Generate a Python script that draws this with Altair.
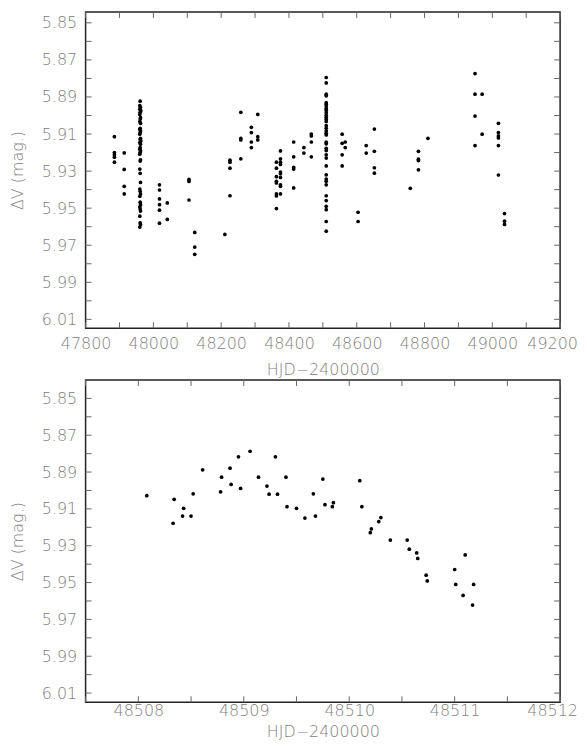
import altair as alt
import pandas as pd

# ---------------- top panel data (HJD-2400000, Delta V) ----------------
top_groups = [
    (47885, [5.9114, 5.9200, 5.9212, 5.9225, 5.9252]),
    (47914, [5.9202, 5.9291, 5.9382, 5.9423]),
    (48018, [5.9374, 5.9402, 5.9450, 5.9481, 5.9511, 5.9581]),
    (48041, [5.9472, 5.9561]),
    (48105, [5.9345, 5.9356, 5.9456]),
    (48122, [5.9631, 5.9710, 5.9749]),
    (48211, [5.9642]),
    (48226, [5.9241, 5.9252, 5.9284, 5.9433]),
    (48258, [5.8983, 5.9124, 5.9132, 5.9234]),
    (48289, [5.9064, 5.9092, 5.9143, 5.9173]),
    (48308, [5.8994, 5.9114, 5.9132]),
    (48414, [5.9143, 5.9223, 5.9280, 5.9289, 5.9391]),
    (48444, [5.9173, 5.9203]),
    (48466, [5.9100, 5.9110, 5.9143, 5.9223]),
    (48557, [5.9101, 5.9150, 5.9212, 5.9272]),
    (48566, [5.9143, 5.9173]),
    (48604, [5.9522, 5.9572]),
    (48628, [5.9162, 5.9203]),
    (48652, [5.9073, 5.9193, 5.9282, 5.9311]),
    (48758, [5.9393]),
    (48782, [5.9193, 5.9236, 5.9243, 5.9293]),
    (48810, [5.9123]),
    (48949, [5.8774, 5.8885, 5.9003, 5.9162]),
    (48970, [5.8885, 5.9101]),
    (49018, [5.9042, 5.9092, 5.9110, 5.9121, 5.9162, 5.9321]),
    (49036, [5.9529, 5.9570, 5.9588]),
]

cluster1_hjd = [47961, 47960, 47962, 47960, 47963, 47961, 47960, 47962, 47961, 47960,
                47962, 47961, 47960, 47962, 47961, 47960, 47962, 47961, 47963, 47960,
                47962, 47961, 47960, 47962, 47961, 47960, 47962, 47961, 47960, 47961,
                47962, 47960, 47961, 47962, 47960, 47961, 47962, 47960, 47961, 47962,
                47960, 47961, 47962, 47960]
cluster1_dv = [5.8923, 5.8947, 5.8956, 5.8966, 5.8974, 5.8983, 5.8994, 5.9012, 5.9019, 5.9033,
               5.9042, 5.9069, 5.9076, 5.9084, 5.9092, 5.9101, 5.9123, 5.9130, 5.9137, 5.9146,
               5.9155, 5.9173, 5.9182, 5.9191, 5.9200, 5.9209, 5.9239, 5.9246, 5.9289, 5.9312,
               5.9361, 5.9397, 5.9409, 5.9423, 5.9436, 5.9468, 5.9481, 5.9493, 5.9504, 5.9516,
               5.9543, 5.9579, 5.9588, 5.9602]

cluster2_hjd = [48375, 48363, 48375, 48375, 48375, 48363, 48375, 48375, 48375,
                48363, 48363, 48363, 48375, 48375, 48363, 48363, 48375, 48363]
cluster2_dv = [5.9191, 5.9252, 5.9234, 5.9252, 5.9264, 5.9284, 5.9305, 5.9314, 5.9334,
               5.9330, 5.9355, 5.9364, 5.9374, 5.9382, 5.9423, 5.9434, 5.9423, 5.9502]

cluster3_hjd = [48510] * 36
cluster3_dv = [5.8795, 5.8824, 5.8885, 5.8894, 5.8931, 5.8939, 5.8949, 5.8962, 5.8971, 5.8985,
               5.8998, 5.9010, 5.9021, 5.9033, 5.9055, 5.9069, 5.9084, 5.9096, 5.9105, 5.9144,
               5.9153, 5.9177, 5.9189, 5.9212, 5.9230, 5.9272, 5.9320, 5.9343, 5.9355, 5.9374,
               5.9433, 5.9459, 5.9490, 5.9508, 5.9572, 5.9624]

# ---------------- bottom panel data (one night) ----------------
night_hjd = [48508.08, 48508.33, 48508.34, 48508.43, 48508.42, 48508.50, 48508.52, 48508.61,
             48508.78, 48508.79, 48508.87, 48508.88, 48508.95, 48508.97, 48509.06, 48509.14,
             48509.22, 48509.24, 48509.30, 48509.32, 48509.40, 48509.41, 48509.50, 48509.58,
             48509.66, 48509.68, 48509.75, 48509.77, 48509.84, 48509.85,
             48510.10, 48510.12, 48510.28, 48510.30, 48510.20, 48510.21, 48510.39, 48510.55,
             48510.57, 48510.64, 48510.65, 48510.73, 48510.74, 48511.00, 48511.01, 48511.10,
             48511.08, 48511.17, 48511.18]
night_dv = [5.9028, 5.9178, 5.9048, 5.9097, 5.9139, 5.9139, 5.9018, 5.8888,
            5.9007, 5.8928, 5.8879, 5.8967, 5.8817, 5.8989, 5.8787, 5.8928,
            5.8976, 5.9020, 5.8817, 5.9020, 5.8928, 5.9088, 5.9097, 5.9150,
            5.9018, 5.9139, 5.8938, 5.9077, 5.9088, 5.9066,
            5.8947, 5.9088, 5.9169, 5.9147, 5.9229, 5.9209, 5.9269, 5.9269,
            5.9319, 5.9339, 5.9369, 5.9460, 5.9491, 5.9429, 5.9510, 5.9350,
            5.9570, 5.9622, 5.9510]

# ---------------- axes ----------------
top_xdomain = [47800, 49200]
top_xticks = list(range(47800, 49201, 100))
top_xlabels = list(range(47800, 49201, 200))
bot_xdomain = [48507.5, 48512]
bot_xticks = [48507.5, 48508, 48508.5, 48509, 48509.5, 48510, 48510.5, 48511, 48511.5, 48512]
bot_xlabels = [48508, 48509, 48510, 48511, 48512]
top_ydomain = [5.8441, 6.0148]
bot_ydomain = [5.84, 6.015]
yticks = [5.85, 5.86, 5.87, 5.88, 5.89, 5.90, 5.91, 5.92, 5.93, 5.94, 5.95, 5.96,
          5.97, 5.98, 5.99, 6.00, 6.01]
ylabels = [5.85, 5.87, 5.89, 5.91, 5.93, 5.95, 5.97, 5.99, 6.01]

rows = []
for t, vals in top_groups:
    for v in vals:
        rows.append((t, v))
rows += list(zip(cluster1_hjd, cluster1_dv))
rows += list(zip(cluster2_hjd, cluster2_dv))
rows += list(zip(cluster3_hjd, cluster3_dv))
top_df = pd.DataFrame(rows, columns=["hjd", "dv"])
bot_df = pd.DataFrame({"hjd": night_hjd, "dv": night_dv})

W = 477
TICK = 6
TICK_COLOR = "#666"


def panel(df, xdom, xticks, xlabels, ydom, H, lab_pad, title_pad):
    xs = alt.Scale(domain=xdom, nice=False, zero=False)
    ys = alt.Scale(domain=ydom, nice=False, zero=False, reverse=True)
    last = xlabels[-1]
    xax = alt.Axis(values=xlabels, format="d", title="HJD\u22122400000",
                   ticks=False, tickSize=0, domain=False, grid=False,
                   labelOverlap=False, labelFlush=False,
                   labelOffset=alt.expr(f"datum.value >= {last} ? -8 : 0"),
                   labelPadding=lab_pad, titlePadding=title_pad)
    yax = alt.Axis(values=ylabels, format=".2f", title="\u0394V (mag.)",
                   ticks=False, tickSize=0, domain=False, grid=False,
                   labelOverlap=False, labelFlush=False,
                   labelPadding=9, titlePadding=16)
    pts = alt.Chart(df).mark_circle(size=14, color="black", opacity=1).encode(
        x=alt.X("hjd:Q", scale=xs, axis=xax),
        y=alt.Y("dv:Q", scale=ys, axis=yax),
    )
    xt = pd.DataFrame({"hjd": xticks})
    yt = pd.DataFrame({"dv": yticks})
    xtop = alt.Chart(xt).mark_rule(color=TICK_COLOR, strokeWidth=1).encode(
        x=alt.X("hjd:Q", scale=xs, axis=xax), y=alt.value(0), y2=alt.value(TICK))
    xbot = alt.Chart(xt).mark_rule(color=TICK_COLOR, strokeWidth=1).encode(
        x=alt.X("hjd:Q", scale=xs, axis=xax), y=alt.value(H - TICK), y2=alt.value(H))
    yl = alt.Chart(yt).mark_rule(color=TICK_COLOR, strokeWidth=1).encode(
        y=alt.Y("dv:Q", scale=ys, axis=yax), x=alt.value(0), x2=alt.value(TICK))
    yr = alt.Chart(yt).mark_rule(color=TICK_COLOR, strokeWidth=1).encode(
        y=alt.Y("dv:Q", scale=ys, axis=yax), x=alt.value(W - TICK), x2=alt.value(W))
    return alt.layer(pts, xtop, xbot, yl, yr).properties(width=W, height=H)


top = panel(top_df, top_xdomain, top_xticks, top_xlabels, top_ydomain, 318, 7, 11)
bottom = panel(bot_df, bot_xdomain, bot_xticks, bot_xlabels, bot_ydomain, 324, 0, 5)

chart = alt.vconcat(top, bottom, spacing=52, bounds="flush").properties(
    padding={"left": 0, "top": 0, "right": 0, "bottom": 0}
).configure_view(
    stroke="#222", strokeWidth=1.5
).configure_axis(
    labelFont="DejaVu Sans", labelFontSize=16, labelColor="#808080", labelFontWeight=200,
    titleFont="DejaVu Sans", titleFontSize=16, titleColor="#808080", titleFontWeight=200,
)

chart.save("out.html", embed_options={"renderer": "svg", "actions": False})
